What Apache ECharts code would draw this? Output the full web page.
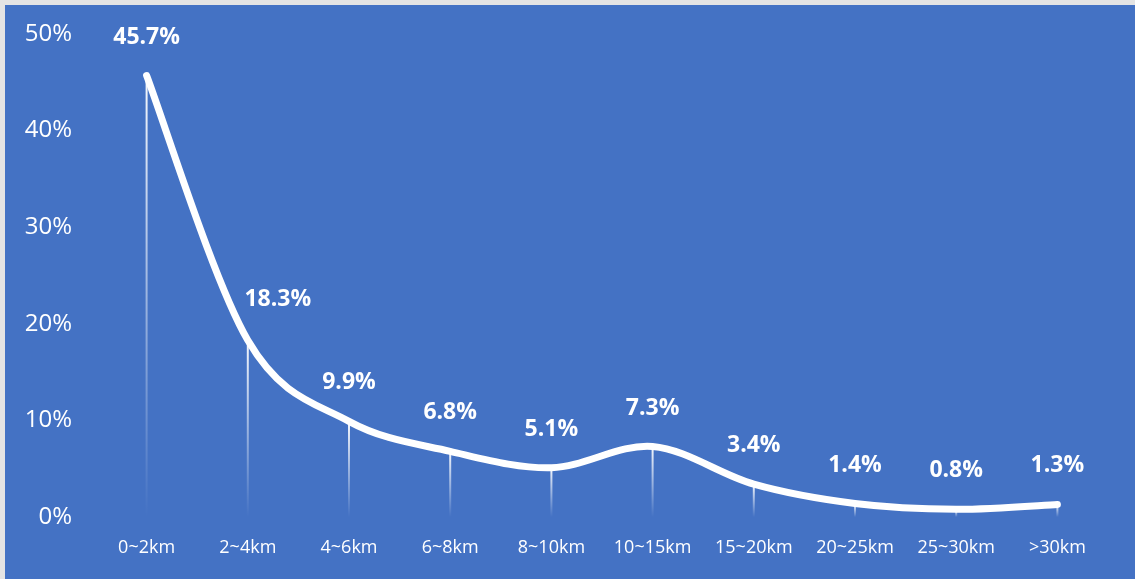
<!DOCTYPE html>
<html>
<head>
<meta charset="utf-8">
<script src="https://cdn.jsdelivr.net/npm/echarts@6/dist/echarts.min.js"></script>
<style>
html,body{margin:0;padding:0;background:#e4e4e4;width:1135px;height:579px;overflow:hidden;}
#chart{position:absolute;left:5px;top:5px;width:1130px;height:574px;background:#4472C4;}
</style>
</head>
<body>
<div id="chart"></div>
<script>
const categories = ['0~2km','2~4km','4~6km','6~8km','8~10km','10~15km','15~20km','20~25km','25~30km','>30km'];
const shares = [45.7, 18.3, 9.9, 6.8, 5.1, 7.3, 3.4, 1.4, 0.8, 1.3];
const yTicks = [0, 10, 20, 30, 40, 50];

const font = '"Open Sans", "Noto Sans", sans-serif';

// Smooth (Catmull-Rom) curve through the data points, positioned by the axes
function renderCurve(params, api) {
  if (params.dataIndex !== 0) return null;
  const pts = shares.map((v, i) => api.coord([i, v]));
  const n = pts.length;
  let d = 'M' + pts[0][0] + ' ' + pts[0][1];
  for (let i = 0; i < n - 1; i++) {
    const p0 = pts[Math.max(i - 1, 0)];
    const p1 = pts[i];
    const p2 = pts[i + 1];
    const p3 = pts[Math.min(i + 2, n - 1)];
    const c1x = p1[0] + (p2[0] - p0[0]) / 6;
    const c1y = p1[1] + (p2[1] - p0[1]) / 6;
    const c2x = p2[0] - (p3[0] - p1[0]) / 6;
    const c2y = p2[1] - (p3[1] - p1[1]) / 6;
    d += ' C' + c1x + ' ' + c1y + ' ' + c2x + ' ' + c2y + ' ' + p2[0] + ' ' + p2[1];
  }
  return {
    type: 'path',
    shape: { pathData: d },
    style: { stroke: '#fff', lineWidth: 7, fill: null, lineCap: 'round', lineJoin: 'round' }
  };
}

const labelData = shares.map((v, i) => i === 1 ? { value: v, label: { offset: [30, -2] } } : v);

const chart = echarts.init(document.getElementById('chart'));
chart.setOption({
  animation: false,
  backgroundColor: '#4472C4',
  grid: { left: 91, right: 27, top: 29, bottom: 62 },
  xAxis: {
    type: 'category',
    data: categories,
    boundaryGap: true,
    axisLine: { show: false },
    axisTick: { show: false },
    axisLabel: { color: '#fff', fontSize: 18, fontFamily: font, margin: 22, interval: 0 }
  },
  yAxis: {
    type: 'value',
    min: yTicks[0],
    max: yTicks[yTicks.length - 1],
    interval: 10,
    splitLine: { show: false },
    axisLine: { show: false },
    axisTick: { show: false },
    axisLabel: { color: '#fff', fontSize: 24, fontFamily: font, margin: 24, formatter: '{value}%' }
  },
  series: [
    {
      type: 'bar',
      data: shares,
      barWidth: 2,
      silent: true,
      z: 2,
      itemStyle: {
        color: new echarts.graphic.LinearGradient(0, 0, 0, 1, [
          { offset: 0, color: 'rgba(255,255,255,0.95)' },
          { offset: 1, color: 'rgba(255,255,255,0)' }
        ])
      }
    },
    {
      type: 'custom',
      data: shares,
      renderItem: renderCurve,
      silent: true,
      z: 3
    },
    {
      type: 'line',
      data: labelData,
      z: 4,
      symbol: 'circle',
      symbolSize: 2,
      showSymbol: true,
      itemStyle: { color: '#fff' },
      lineStyle: { opacity: 0, width: 0 },
      label: {
        show: true,
        position: 'top',
        distance: 26,
        color: '#fff',
        fontSize: 23,
        fontWeight: 'bold',
        fontFamily: font,
        formatter: p => p.value + '%'
      }
    }
  ]
});
</script>
</body>
</html>
